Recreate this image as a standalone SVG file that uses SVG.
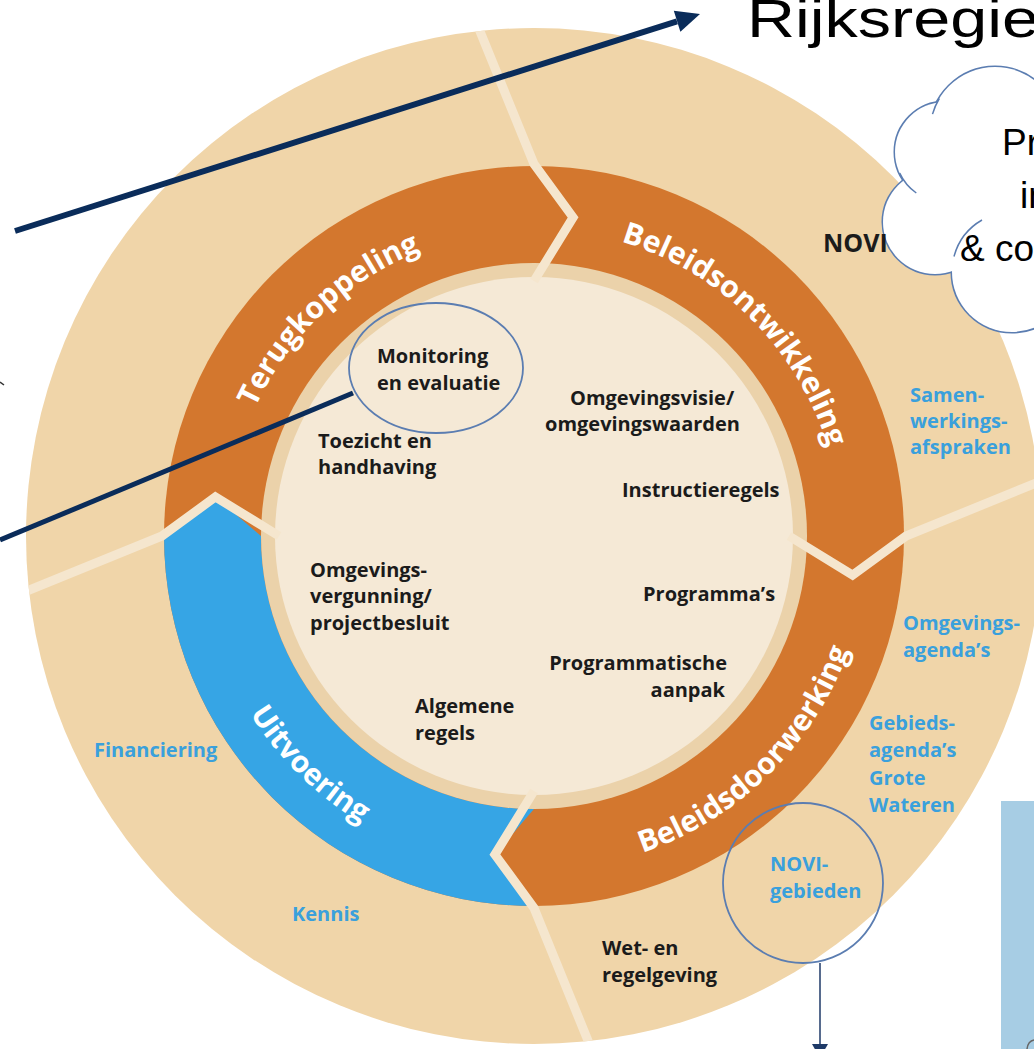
<svg xmlns="http://www.w3.org/2000/svg" width="1034" height="1049" viewBox="0 0 1034 1049">
<defs>
<style>
.lbl{font-family:"Open Sans","Noto Sans",sans-serif;font-weight:700;font-size:20px;fill:#1b1b1b}
.blue{fill:#3aa0dc}
.ring{font-family:"Open Sans","Noto Sans",sans-serif;font-weight:700;font-size:30px;fill:#ffffff}
.sep{fill:none;stroke:#f5e6ce;stroke-width:9;stroke-linejoin:miter}
.hl{fill:none;stroke:#5b7db1;stroke-width:1.8}
.big{font-family:"Liberation Sans",Arial,sans-serif;fill:#000000}
.cl{fill:#ffffff;stroke:#5b7db1;stroke-width:3}
.clf{fill:#ffffff}
.cr{fill:none;stroke:#5b7db1;stroke-width:1.5}
.navy{stroke:#0a2c5a;fill:none}
</style>
<path id="arcTop" d="M227 536 A307 307 0 0 1 841 536"/>
<path id="arcBot" d="M199 536 A335 335 0 0 0 869 536"/>
<clipPath id="disc"><circle cx="534" cy="536" r="508"/></clipPath>
</defs>
<rect x="0" y="0" width="1034" height="1049" fill="#ffffff"/>

<g id="wheel">
  <circle cx="534" cy="536" r="508" fill="#f0d5a9"/>
  <circle cx="534" cy="536" r="370" fill="#d3772e"/>
  <path d="M534 906 A370 370 0 0 1 164 536 L215.4 496.9 L261 536 A273 273 0 0 0 534 809 L494.9 854.6 Z" fill="#36a5e5"/>
  <circle cx="534" cy="536" r="273" fill="#ebd2aa"/>
  <circle cx="534" cy="536" r="259" fill="#f5e9d6"/>
  <g clip-path="url(#disc)">
    <path class="sep" d="M534 281 L573.1 217.4 L534 164 L475.1 19.3"/>
    <path class="sep" d="M789 536 L852.6 575.1 L906 536 L1050.7 477.1"/>
    <path class="sep" d="M534 791 L494.9 854.6 L534 908 L592.9 1052.7"/>
    <path class="sep" d="M279 536 L215.4 496.9 L162 536 L17.3 594.9"/>
  </g>
</g>

<g id="segment-terugkoppeling"><text class="ring" text-anchor="middle"><textPath href="#arcTop" startOffset="249">Terugkoppeling</textPath></text></g>
<g id="segment-beleidsontwikkeling"><text class="ring" text-anchor="middle"><textPath href="#arcTop" startOffset="722">Beleidsontwikkeling</textPath></text></g>
<g id="segment-beleidsdoorwerking"><text class="ring" text-anchor="middle"><textPath href="#arcBot" startOffset="786">Beleidsdoorwerking</textPath></text></g>
<g id="segment-uitvoering"><text class="ring" text-anchor="middle"><textPath href="#arcBot" startOffset="266">Uitvoering</textPath></text></g>

<g id="inner-labels">
  <g id="monitoring"><ellipse class="hl" cx="436" cy="368" rx="87" ry="65"/><text class="lbl" x="377" y="363">Monitoring</text><text class="lbl" x="377" y="390">en evaluatie</text></g>
  <g id="toezicht"><text class="lbl" x="318" y="448">Toezicht en</text><text class="lbl" x="318" y="474">handhaving</text></g>
  <g id="omgevingsvisie"><text class="lbl" x="570" y="405">Omgevingsvisie/</text><text class="lbl" x="545" y="431">omgevingswaarden</text></g>
  <g id="instructieregels"><text class="lbl" x="622" y="497">Instructieregels</text></g>
  <g id="programmas"><text class="lbl" x="643" y="601">Programma’s</text></g>
  <g id="programmatische"><text class="lbl" x="727" y="670" text-anchor="end">Programmatische</text><text class="lbl" x="725" y="697" text-anchor="end">aanpak</text></g>
  <g id="omgevingsvergunning"><text class="lbl" x="310" y="577">Omgevings-</text><text class="lbl" x="310" y="603">vergunning/</text><text class="lbl" x="310" y="630">projectbesluit</text></g>
  <g id="algemene"><text class="lbl" x="415" y="713">Algemene</text><text class="lbl" x="415" y="740">regels</text></g>
</g>

<g id="outer-labels">
  <g id="wet"><text class="lbl" x="602" y="955">Wet- en</text><text class="lbl" x="602" y="982">regelgeving</text></g>
  <g id="samenwerking"><text class="lbl blue" x="910" y="402">Samen-</text><text class="lbl blue" x="910" y="428">werkings-</text><text class="lbl blue" x="910" y="454">afspraken</text></g>
  <g id="omgevingsagenda"><text class="lbl blue" x="903" y="630">Omgevings-</text><text class="lbl blue" x="903" y="657">agenda’s</text></g>
  <g id="gebiedsagenda"><text class="lbl blue" x="869" y="730">Gebieds-</text><text class="lbl blue" x="869" y="757">agenda’s</text><text class="lbl blue" x="869" y="785">Grote</text><text class="lbl blue" x="869" y="812">Wateren</text></g>
  <g id="novigebieden"><circle class="hl" cx="803" cy="883" r="80"/><text class="lbl blue" x="770" y="871">NOVI-</text><text class="lbl blue" x="770" y="898">gebieden</text></g>
  <g id="financiering"><text class="lbl blue" x="94" y="757">Financiering</text></g>
  <g id="kennis"><text class="lbl blue" x="292" y="921">Kennis</text></g>
</g>

<g id="bluebox"><rect x="1001" y="801" width="40" height="260" fill="#a7cde4"/><path d="M1027 1049 Q1028 1041 1034 1040" fill="none" stroke="#666666" stroke-width="1.5"/></g>

<g id="cloud">
  <circle class="cl" cx="995" cy="132" r="65"/>
  <circle class="cl" cx="945" cy="152" r="50"/>
  <circle class="cl" cx="935" cy="222" r="52"/>
  <circle class="cl" cx="1012" cy="272" r="60"/>
  <circle class="clf" cx="995" cy="132" r="65"/>
  <circle class="clf" cx="945" cy="152" r="50"/>
  <circle class="clf" cx="935" cy="222" r="52"/>
  <circle class="clf" cx="1012" cy="272" r="60"/>
  <rect class="clf" x="975" y="150" width="70" height="130"/>
  <path class="cr" d="M939.3 98.5 A65 65 0 0 0 932.5 114.1"/>
  <path class="cr" d="M899.7 173.1 A50 50 0 0 0 916.3 193"/>
  <path class="cr" d="M982 220 A60 60 0 0 0 954 256.5"/>
  <text class="big" x="1002" y="155" font-size="37">Pr</text>
  <text class="big" x="1020" y="208" font-size="37">in</text>
  <text class="big" x="960" y="261" font-size="37">&amp; co</text>
</g>

<g id="novi"><text class="lbl" x="823" y="252" style="font-size:25px">NOVI</text></g>

<g id="title"><text class="big" x="747" y="37" font-size="54" textLength="292" lengthAdjust="spacingAndGlyphs">Rijksregie</text></g>

<g id="connectors">
  <line class="navy" x1="15" y1="231" x2="677" y2="21.3" stroke-width="6"/>
  <polygon points="700,14 680.4,31.7 673.8,10.8" fill="#0a2c5a"/>
  <line class="navy" x1="0" y1="540" x2="353" y2="393" stroke-width="5"/>
  <line x1="820" y1="963" x2="820" y2="1046" stroke="#1f3a68" stroke-width="1.5"/>
  <polygon points="812,1044 828,1044 820,1058" fill="#1f3a68"/>
  <line x1="0" y1="382" x2="4" y2="385" stroke="#333333" stroke-width="1.5"/>
</g>
</svg>
